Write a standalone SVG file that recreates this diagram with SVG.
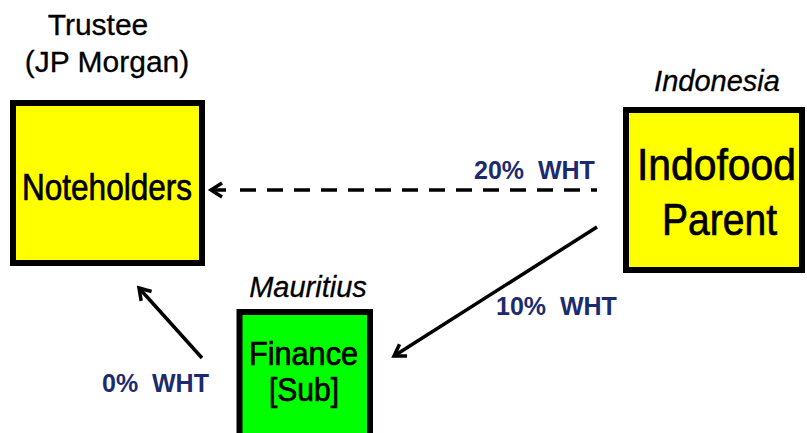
<svg xmlns="http://www.w3.org/2000/svg" width="807" height="433" viewBox="0 0 807 433">
<style>
.box{stroke:#000;stroke-width:6}
.yellow{fill:#ffff00}
.green{fill:#00ff00}
.nl{font-family:"Liberation Sans Narrow","Liberation Sans",Arial,sans-serif;fill:#000;stroke:#000;stroke-width:0.7;text-anchor:middle}
.lbl{font-family:"Liberation Sans",Arial,sans-serif;fill:#000;stroke:#000;stroke-width:0.3;text-anchor:middle;font-size:30px}
.it{font-style:italic;font-size:29px}
.wht{font-family:"Liberation Sans",Arial,sans-serif;font-weight:bold;font-size:25px;fill:#1c2a6e;white-space:pre}
.conn{stroke:#000;stroke-width:3.5;fill:none}
</style>
<defs>
<marker id="chev" viewBox="0 0 16 18" refX="13" refY="9" markerWidth="16" markerHeight="18" markerUnits="userSpaceOnUse" orient="auto" overflow="visible">
<path d="M2,2 L13,9 L2,16" fill="none" stroke="#000" stroke-width="3.5"/>
</marker>
</defs>
<text class="lbl" x="98" y="35">Trustee</text>
<text class="lbl" x="107" y="72">(JP Morgan)</text>
<text class="lbl it" x="717" y="91">Indonesia</text>
<text class="lbl it" x="308" y="297">Mauritius</text>
<g id="noteholders">
<rect class="box yellow" x="13" y="103" width="189" height="160"/>
<text class="nl" x="107" y="200" font-size="37" textLength="170" lengthAdjust="spacingAndGlyphs">Noteholders</text>
</g>
<g id="indofood">
<rect class="box yellow" x="626" y="110" width="176" height="160"/>
<text class="nl" x="716.5" y="180" font-size="44" textLength="159" lengthAdjust="spacingAndGlyphs">Indofood</text>
<text class="nl" x="719.5" y="235" font-size="44" textLength="115" lengthAdjust="spacingAndGlyphs">Parent</text>
</g>
<g id="finance">
<rect class="box green" x="239.5" y="312" width="130.5" height="140"/>
<text class="nl" x="303.5" y="365" font-size="33" textLength="109" lengthAdjust="spacingAndGlyphs">Finance</text>
<text class="nl" x="304" y="401" font-size="33" textLength="70" lengthAdjust="spacingAndGlyphs">[Sub]</text>
</g>
<g id="connectors">
<line class="conn" x1="226" y1="190" x2="211" y2="190" marker-end="url(#chev)"/>
<line class="conn" x1="240" y1="190" x2="597" y2="190" stroke-dasharray="16 11"/>
<line class="conn" x1="597" y1="227" x2="394" y2="356" marker-end="url(#chev)"/>
<line class="conn" x1="202" y1="358" x2="139" y2="288" marker-end="url(#chev)"/>
</g>
<text class="wht" x="474" y="179">20%  WHT</text>
<text class="wht" x="496" y="315">10%  WHT</text>
<text class="wht" x="102" y="392">0%  WHT</text>
</svg>
